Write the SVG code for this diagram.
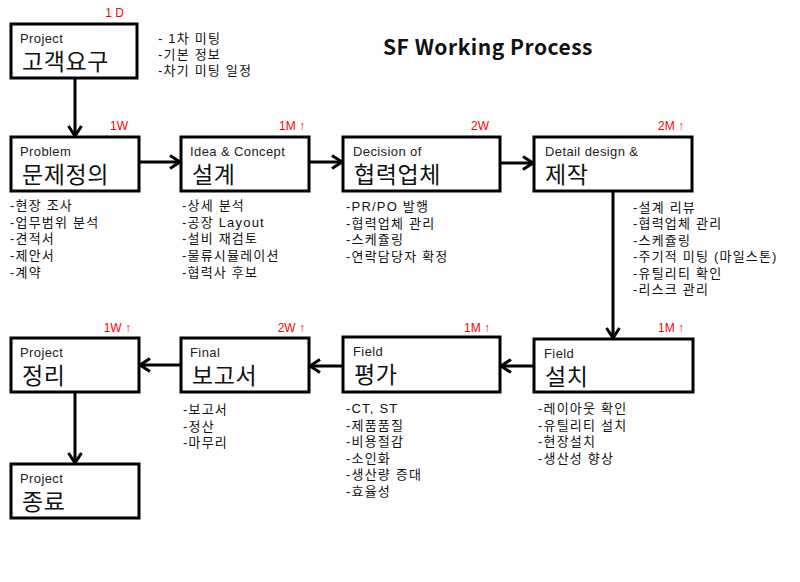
<svg xmlns="http://www.w3.org/2000/svg" width="800" height="582" viewBox="0 0 800 582">
<defs>
<style>
.box{fill:#fff;stroke:#000;stroke-width:3}
.sm{font-family:"Liberation Sans","Noto Sans CJK KR",sans-serif;font-size:13px;letter-spacing:0.4px;fill:#222}
.big{font-family:"Liberation Sans","Noto Sans CJK KR",sans-serif;font-size:23px;letter-spacing:0.6px;fill:#111}
.li{font-family:"Liberation Sans","Noto Sans CJK KR",sans-serif;font-size:13px;letter-spacing:1.2px;fill:#111}
.red{font-family:"Liberation Sans","Noto Sans CJK KR",sans-serif;font-size:12px;fill:#f00;text-anchor:end}
.title{font-family:"Noto Sans CJK KR","Open Sans",sans-serif;font-size:21px;letter-spacing:0.5px;font-weight:bold;fill:#111}
.cn{stroke:#000;stroke-width:3;fill:none;marker-end:url(#ah)}
</style>
<marker id="ah" markerUnits="userSpaceOnUse" markerWidth="14" markerHeight="16" viewBox="0 0 14 16" refX="12" refY="8" orient="auto">
<path d="M2,1.5 L12,8 L2,14.5" fill="none" stroke="#000" stroke-width="3"/>
</marker>
</defs>
<rect width="800" height="582" fill="#fff"/>
<text class="title" x="383" y="55">SF Working Process</text>

<g id="connectors">
<line class="cn" x1="75" y1="79" x2="75" y2="136"/>
<line class="cn" x1="139" y1="162" x2="180" y2="162"/>
<line class="cn" x1="309" y1="162" x2="342" y2="162"/>
<line class="cn" x1="500" y1="163" x2="533" y2="163"/>
<line class="cn" x1="613" y1="191" x2="613" y2="338"/>
<line class="cn" x1="534" y1="366" x2="501" y2="366"/>
<line class="cn" x1="343" y1="366" x2="310" y2="366"/>
<line class="cn" x1="181" y1="365" x2="140" y2="365"/>
<line class="cn" x1="75" y1="392" x2="75" y2="463"/>
</g>

<g id="n1">
<rect class="box" x="11" y="24" width="126" height="54"/>
<text class="sm" x="20" y="43">Project</text>
<text class="big" x="22" y="70">고객요구</text>
<text class="red" x="124" y="17">1 D</text>
<text class="li" x="158" y="43">- 1차 미팅<tspan x="158" dy="16">-기본 정보</tspan><tspan x="158" dy="16">-차기 미팅 일정</tspan></text>
</g>

<g id="n2">
<rect class="box" x="11" y="137" width="128" height="54"/>
<text class="sm" x="20" y="156">Problem</text>
<text class="big" x="22" y="183">문제정의</text>
<text class="red" x="128" y="130">1W</text>
<text class="li" x="10" y="210">-현장 조사<tspan x="10" dy="16.7">-업무범위 분석</tspan><tspan x="10" dy="16.7">-견적서</tspan><tspan x="10" dy="16.7">-제안서</tspan><tspan x="10" dy="16.7">-계약</tspan></text>
</g>

<g id="n3">
<rect class="box" x="181" y="137" width="128" height="54"/>
<text class="sm" x="190" y="156">Idea &amp; Concept</text>
<text class="big" x="192" y="183">설계</text>
<text class="red" x="305" y="130">1M ↑</text>
<text class="li" x="182" y="210">-상세 분석<tspan x="182" dy="16.7">-공장 Layout</tspan><tspan x="182" dy="16.7">-설비 재검토</tspan><tspan x="182" dy="16.7">-물류시뮬레이션</tspan><tspan x="182" dy="16.7">-협력사 후보</tspan></text>
</g>

<g id="n4">
<rect class="box" x="343" y="137" width="157" height="54"/>
<text class="sm" x="353" y="156">Decision of</text>
<text class="big" x="354" y="183">협력업체</text>
<text class="red" x="489" y="130">2W</text>
<text class="li" x="346" y="211">-PR/PO 발행<tspan x="346" dy="16.7">-협력업체 관리</tspan><tspan x="346" dy="16.7">-스케쥴링</tspan><tspan x="346" dy="16.7">-연락담당자 확정</tspan></text>
</g>

<g id="n5">
<rect class="box" x="534" y="137" width="158" height="54"/>
<text class="sm" x="545" y="156">Detail design &amp;</text>
<text class="big" x="545" y="183">제작</text>
<text class="red" x="684" y="130">2M ↑</text>
<text class="li" x="633" y="212">-설계 리뷰<tspan x="633" dy="16.4">-협력업체 관리</tspan><tspan x="633" dy="16.4">-스케쥴링</tspan><tspan x="633" dy="16.4">-주기적 미팅 (마일스톤)</tspan><tspan x="633" dy="16.4">-유틸리티 확인</tspan><tspan x="633" dy="16.4">-리스크 관리</tspan></text>
</g>

<g id="n6">
<rect class="box" x="534" y="339" width="159" height="53"/>
<text class="sm" x="544" y="358">Field</text>
<text class="big" x="545" y="385">설치</text>
<text class="red" x="684" y="332">1M ↑</text>
<text class="li" x="538" y="413">-레이아웃 확인<tspan x="538" dy="16.5">-유틸리티  설치</tspan><tspan x="538" dy="16.5">-현장설치</tspan><tspan x="538" dy="16.5">-생산성 향상</tspan></text>
</g>

<g id="n7">
<rect class="box" x="343" y="337" width="157" height="55"/>
<text class="sm" x="353" y="356">Field</text>
<text class="big" x="354" y="383">평가</text>
<text class="red" x="490" y="332">1M ↑</text>
<text class="li" x="346" y="413">-CT, ST<tspan x="346" dy="16.5">-제품품질</tspan><tspan x="346" dy="16.5">-비용절감</tspan><tspan x="346" dy="16.5">-소인화</tspan><tspan x="346" dy="16.5">-생산량 증대</tspan><tspan x="346" dy="16.5">-효율성</tspan></text>
</g>

<g id="n8">
<rect class="box" x="181" y="338" width="128" height="54"/>
<text class="sm" x="190" y="357">Final</text>
<text class="big" x="192" y="384">보고서</text>
<text class="red" x="305" y="332">2W ↑</text>
<text class="li" x="183" y="414">-보고서<tspan x="183" dy="16.5">-정산</tspan><tspan x="183" dy="16.5">-마무리</tspan></text>
</g>

<g id="n9">
<rect class="box" x="11" y="338" width="128" height="54"/>
<text class="sm" x="20" y="357">Project</text>
<text class="big" x="22" y="384">정리</text>
<text class="red" x="131" y="332">1W ↑</text>
</g>

<g id="n10">
<rect class="box" x="11" y="464" width="128" height="54"/>
<text class="sm" x="20" y="483">Project</text>
<text class="big" x="22" y="510">종료</text>
</g>
</svg>
